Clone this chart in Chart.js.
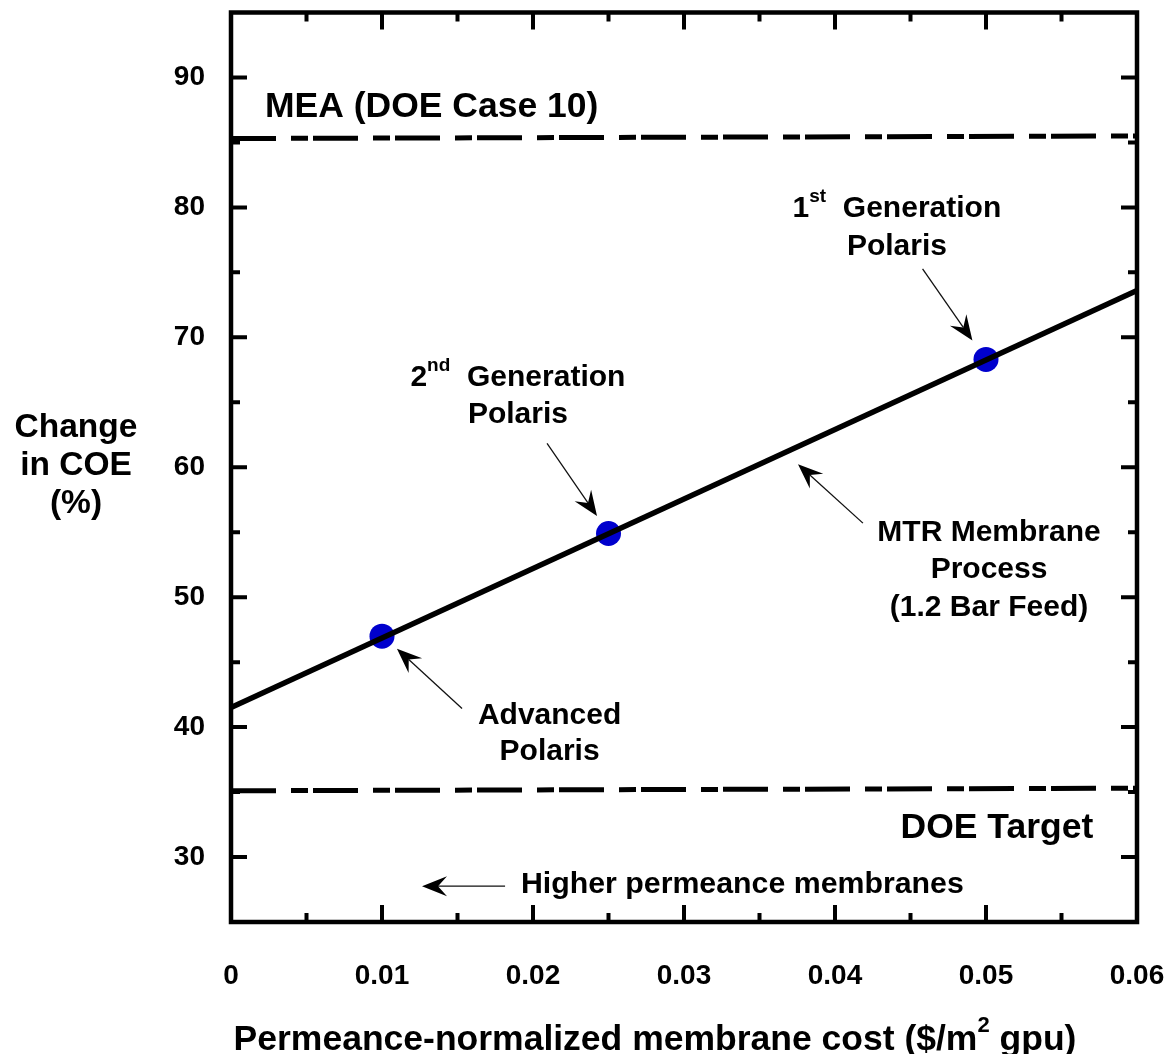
<!DOCTYPE html>
<html>
<head>
<meta charset="utf-8">
<script src="https://cdn.jsdelivr.net/npm/chart.js@4.4.1/dist/chart.umd.min.js"></script>
<style>
  html, body { margin: 0; padding: 0; background: #fff; }
</style>
</head>
<body>
<canvas id="coe" width="1168" height="1054"></canvas>
<script>
  // axis ticks
  const xTicks = [0, 0.01, 0.02, 0.03, 0.04, 0.05, 0.06];
  const xTickLabels = ['0', '0.01', '0.02', '0.03', '0.04', '0.05', '0.06'];
  const xMinorTicks = [0.005, 0.015, 0.025, 0.035, 0.045, 0.055];
  const yTicks = [30, 40, 50, 60, 70, 80, 90];
  const yTickLabels = ['30', '40', '50', '60', '70', '80', '90'];
  const yMinorTicks = [35, 45, 55, 65, 75, 85];

  // MTR membrane process line (1.2 bar feed)
  const mtrX = [0, 0.06];
  const mtrY = [41.5, 73.6];

  // Polaris generations
  const polarisX = [0.01, 0.025, 0.05];
  const polarisY = [47.0, 54.9, 68.3];

  // reference levels
  const refX = [0, 0.06];
  const meaY = [85.3, 85.5];
  const doeY = [35.1, 35.3];

  const FONT = "'Liberation Sans', Arial, sans-serif";

  const toPts = (xs, ys) => xs.map((v, i) => ({ x: v, y: ys[i] }));

  // text pieces: [text, isSuperscript]
  const notes = [
    { x: 0.0441, y: 79.27, size: 30, align: 'center', parts: [['1', 0], ['st', 1], ['  Generation', 0]] },
    { x: 0.0441, y: 76.35, size: 30, align: 'center', parts: [['Polaris', 0]] },
    { x: 0.0190, y: 66.22, size: 30, align: 'center', parts: [['2', 0], ['nd', 1], ['  Generation', 0]] },
    { x: 0.0190, y: 63.38, size: 30, align: 'center', parts: [['Polaris', 0]] },
    { x: 0.0211, y: 40.27, size: 30, align: 'center', parts: [['Advanced', 0]] },
    { x: 0.0211, y: 37.43, size: 30, align: 'center', parts: [['Polaris', 0]] },
    { x: 0.0502, y: 54.32, size: 30, align: 'center', parts: [['MTR Membrane', 0]] },
    { x: 0.0502, y: 51.48, size: 30, align: 'center', parts: [['Process', 0]] },
    { x: 0.0502, y: 48.56, size: 30, align: 'center', parts: [['(1.2 Bar Feed)', 0]] },
    { x: 0.00225, y: 86.94, size: 35.5, align: 'left', parts: [['MEA (DOE Case 10)', 0]] },
    { x: 0.0571, y: 31.45, size: 35.5, align: 'right', parts: [['DOE Target', 0]] },
    { x: 0.0192, y: 27.23, size: 30.3, align: 'left', parts: [['Higher permeance membranes', 0]] }
  ];

  const arrows = [
    { from: [0.0458, 75.27], to: [0.0491, 69.75] },
    { from: [0.02093, 61.84], to: [0.02424, 56.24] },
    { from: [0.0153, 41.43], to: [0.01099, 46.03] },
    { from: [0.04185, 55.70], to: [0.03755, 60.23] },
    { from: [0.01815, 27.76], to: [0.01265, 27.76] }
  ];

  function drawRich(ctx, parts, x, y, size, align) {
    const supSize = Math.round(size * 0.62);
    let total = 0;
    parts.forEach(p => {
      ctx.font = 'bold ' + (p[1] ? supSize : size) + 'px ' + FONT;
      total += ctx.measureText(p[0]).width;
    });
    let cx = align === 'center' ? x - total / 2 : align === 'right' ? x - total : x;
    ctx.textAlign = 'left';
    ctx.textBaseline = 'alphabetic';
    parts.forEach(p => {
      ctx.font = 'bold ' + (p[1] ? supSize : size) + 'px ' + FONT;
      ctx.fillText(p[0], cx, p[1] ? y - size * 0.5 : y);
      cx += ctx.measureText(p[0]).width;
    });
  }

  function drawArrow(ctx, x1, y1, x2, y2) {
    const ang = Math.atan2(y2 - y1, x2 - x1);
    const L = 25, W = 10, N = 16;
    ctx.lineWidth = 1.3;
    ctx.beginPath();
    ctx.moveTo(x1, y1);
    ctx.lineTo(x2 - Math.cos(ang) * N, y2 - Math.sin(ang) * N);
    ctx.stroke();
    ctx.save();
    ctx.translate(x2, y2);
    ctx.rotate(ang);
    ctx.beginPath();
    ctx.moveTo(0, 0);
    ctx.lineTo(-L, -W);
    ctx.lineTo(-N, 0);
    ctx.lineTo(-L, W);
    ctx.closePath();
    ctx.fill();
    ctx.restore();
  }

  const framePlugin = {
    id: 'frame',
    afterDatasetsDraw(chart) {
      const { ctx, chartArea: a, scales: { x, y } } = chart;
      ctx.save();
      ctx.strokeStyle = '#000';
      ctx.fillStyle = '#000';
      ctx.lineWidth = 4.5;
      ctx.strokeRect(a.left, a.top, a.right - a.left, a.bottom - a.top);

      // inward ticks on all four sides
      ctx.lineWidth = 4;
      ctx.beginPath();
      const xt = (list, len) => list.forEach(v => {
        const px = x.getPixelForValue(v);
        ctx.moveTo(px, a.bottom); ctx.lineTo(px, a.bottom - len);
        ctx.moveTo(px, a.top); ctx.lineTo(px, a.top + len);
      });
      const yt = (list, len) => list.forEach(v => {
        const py = y.getPixelForValue(v);
        ctx.moveTo(a.left, py); ctx.lineTo(a.left + len, py);
        ctx.moveTo(a.right, py); ctx.lineTo(a.right - len, py);
      });
      xt(xTicks, 17); xt(xMinorTicks, 9);
      yt(yTicks, 16); yt(yMinorTicks, 9);
      ctx.stroke();

      // annotations
      notes.forEach(n => drawRich(ctx, n.parts, x.getPixelForValue(n.x), y.getPixelForValue(n.y), n.size, n.align));
      ctx.strokeStyle = '#111';
      ctx.fillStyle = '#000';
      arrows.forEach(r => drawArrow(ctx,
        x.getPixelForValue(r.from[0]), y.getPixelForValue(r.from[1]),
        x.getPixelForValue(r.to[0]), y.getPixelForValue(r.to[1])));

      // axis titles
      ctx.fillStyle = '#000';
      ctx.font = 'bold 33.5px ' + FONT;
      ctx.textAlign = 'center';
      ctx.textBaseline = 'alphabetic';
      ['Change', 'in COE', '(%)'].forEach((t, i) => ctx.fillText(t, 76, 437 + i * 38));
      drawRich(ctx, [['Permeance-normalized membrane cost ($/m', 0], ['2', 1], [' gpu)', 0]], 655, 1050, 35.5, 'center');
      ctx.restore();
    }
  };

  new Chart(document.getElementById('coe'), {
    type: 'scatter',
    data: {
      datasets: [
        {
          label: 'MEA (DOE Case 10)',
          data: toPts(refX, meaY),
          showLine: true,
          borderColor: '#000',
          borderWidth: 5,
          borderDash: [45, 15, 17, 5],
          pointRadius: 0
        },
        {
          label: 'DOE Target',
          data: toPts(refX, doeY),
          showLine: true,
          borderColor: '#000',
          borderWidth: 5,
          borderDash: [45, 15, 17, 5],
          pointRadius: 0
        },
        {
          label: 'MTR Membrane Process',
          data: toPts(mtrX, mtrY),
          showLine: true,
          borderColor: '#000',
          borderWidth: 5.5,
          pointRadius: 0
        },
        {
          label: 'Polaris',
          data: toPts(polarisX, polarisY),
          showLine: false,
          pointRadius: 12.5,
          pointBackgroundColor: '#0000cd',
          pointBorderWidth: 0
        }
      ]
    },
    options: {
      responsive: false,
      animation: false,
      layout: { padding: { left: 0, top: 10, right: 31, bottom: 0 } },
      plugins: { legend: { display: false }, tooltip: { enabled: false } },
      scales: {
        x: {
          type: 'linear',
          min: 0,
          max: 0.06,
          afterBuildTicks: s => { s.ticks = xTicks.map(v => ({ value: v })); },
          afterFit: s => { s.height = 132; s.paddingLeft = 0; s.paddingRight = 0; },
          grid: { display: false, drawTicks: false },
          border: { display: false },
          ticks: {
            padding: 37,
            color: '#000',
            font: { family: FONT, size: 28, weight: 'bold' },
            maxRotation: 0,
            autoSkip: false,
            callback: (v, i) => xTickLabels[i]
          }
        },
        y: {
          type: 'linear',
          min: 25,
          max: 95,
          afterBuildTicks: s => { s.ticks = yTicks.map(v => ({ value: v })); },
          afterFit: s => { s.width = 231; s.paddingTop = 0; s.paddingBottom = 0; },
          grid: { display: false, drawTicks: false },
          border: { display: false },
          ticks: {
            padding: 26,
            color: '#000',
            font: { family: FONT, size: 28, weight: 'bold' },
            autoSkip: false,
            callback: (v, i) => yTickLabels[i]
          }
        }
      }
    },
    plugins: [framePlugin]
  });
</script>
</body>
</html>
